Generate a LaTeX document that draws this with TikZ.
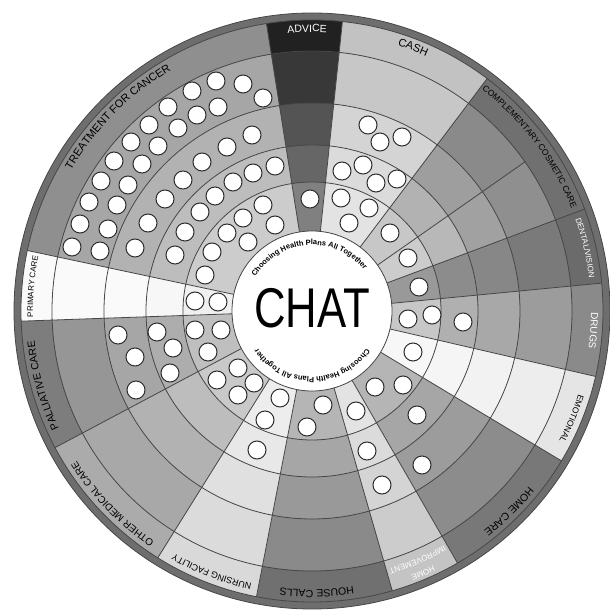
\documentclass[tikz,border=0pt]{standalone}
\usepackage{fontspec}
\setmainfont{Liberation Sans}
\usetikzlibrary{decorations.text}

\begin{document}
\begin{tikzpicture}[
  x=1pt, y=1pt,
  edge/.style={draw=white!28!black, line width=0.8pt},
  hole/.style={draw=white!18!black, fill=white, line width=1pt},
  band/.style={decorate, decoration={text along path, text align=center}}
]
\useasboundingbox (-312,-299) rectangle (298,311);
\fill[white!43!black] (0,0) circle (298);

\foreach \phia/\phib/\gla/\glb/\glc/\gld/\gle in {
    99/168/56/65/70/74/80,    84/99/13/22/33/40/50,
    53/84/76/78/83/86/89,     35/53/44/54/62/70/78,
    20.5/35/44/56/63/72/80,   5.5/20.5/42/48/53/55/60,
    -13/5.5/54/61/66/69/78,   -31/-13/90/93/95/96/97,
    -60/-31/47/55/61/65/71,   -74/-60/77/80/83/86/89,
    -101/-74/44/54/60/65/71,  -122/-101/85/86/88/91/93,
    -152/-122/67/66/70/74/79, -178/-152/49/59/65/68/75,
    168/182/98/98/98/97/94}
  \foreach \ri/\ro/\gv in {80/129/\gle, 129/166/\gld, 166/208/\glc, 208/260/\glb, 260/291/\gla}
    \fill[white!\gv!black] (\phia:\ri) arc[start angle=\phia, end angle=\phib, radius=\ri]
      -- (\phib:\ro) arc[start angle=\phib, end angle=\phia, radius=\ro] -- cycle;

\foreach \bnd in {99,168,84,53,20.5,5.5,-13,-31,-60,-74,-101,-122,-152,-178}
  \draw[edge] (\bnd:80) -- (\bnd:291);
\draw[edge] (35:80) -- (35:260);
\foreach \r in {129,166,208,260,291}
  \draw[edge] (0,0) circle (\r);
\draw[edge] (0,0) circle (298);
\draw[edge, fill=white] (0,0) circle (80);

\foreach \x/\y in {
    -240/64,-232/87,-223/109,-211/130,-198/150,-181/169,-163/186,-144/204,-120/220,-96/230,-69/227,-49/213,
    -212/60,-204/82,-195/106,-184/126,-170/147,-154/165,-134/183,-115/196,-94/204,
    -177/63,-164/88,-147/112,-129/131,-110/149,-85/164,-60/176,
    -137/56,-127/79,-112/99,-97/115,-79/129,-59/138,-37/145,
    -107/36,-100/59,-85/78,-69/93,-49/106,-64/69,-37/86,
    -2/112,
    56/186,68/169,90/174,30/140,51/146,64/128,85/132,29/113,57/103,37/88,
    78/78,96/53,107/24,
    96/-8,120/-4,151/-11,
    101/-41,
    63/-76,91/-74,105/-104,110/-154,
    44/-100,55/-140,70/-174,
    11/-94,-5/-116,
    -32/-87,-47/-109,-55/-139,
    -95/-69,-74/-57,-58/-72,-74/-84,
    -194/-24,-155/-21,-117/-19,-91/-19,-177/-46,-139/-37,-104/-41,-176/-79,-142/-62,
    -117/10,-94/9}
  \draw[hole] (\x,\y) circle (9);

\node (chat) at (0,3) {\fontsize{56}{56}\selectfont\scalebox{0.78}[1]{CHAT}};

\path[band, decoration={text={|\bfseries\fontsize{7.5}{9}\selectfont|Choosing Health Plans All Together}}]
  (173.5:66) arc[start angle=173.5, end angle=13.5, radius=66];
\path[band, decoration={text={|\bfseries\fontsize{7.5}{9}\selectfont|Choosing Health Plans All Together}}]
  (-10:66) arc[start angle=-10, end angle=-170, radius=66];

\path[band, decoration={text={|\fontsize{11}{13}\selectfont|TREATMENT FOR CANCER}}]
  (175:279) arc[start angle=175, end angle=95, radius=279];
\path[band, decoration={text={|\color{white}\fontsize{10.5}{12}\selectfont|ADVICE}}]
  (131:279) arc[start angle=131, end angle=51, radius=279];
\path[band, decoration={text={|\fontsize{11}{13}\selectfont|CASH}}]
  (109:279) arc[start angle=109, end angle=29, radius=279];
\path[band, decoration={text={|\fontsize{8.5}{10}\selectfont|COMPLEMENTARY COSMETIC CARE}}]
  (77:279) arc[start angle=77, end angle=-3, radius=279];
\path[band, decoration={text={|\color{white}\fontsize{8}{10}\selectfont|DENTAL/VISION}}]
  (53:279) arc[start angle=53, end angle=-27, radius=279];
\path[band, decoration={text={|\color{white}\fontsize{10}{12}\selectfont|DRUGS}}]
  (36:279) arc[start angle=36, end angle=-44, radius=279];
\path[band, decoration={text={|\fontsize{8.5}{10}\selectfont|EMOTIONAL}}]
  (17.5:279) arc[start angle=17.5, end angle=-62.5, radius=279];
\path[band, decoration={text={|\fontsize{10.5}{12}\selectfont|HOME CARE}}]
  (-5.5:279) arc[start angle=-5.5, end angle=-85.5, radius=279];
\path[band, decoration={text={|\color{white}\fontsize{8}{10}\selectfont|HOME}}]
  (-27:282) arc[start angle=-27, end angle=-107, radius=282];
\path[band, decoration={text={|\color{white}\fontsize{8}{10}\selectfont|IMPROVEMENT}}]
  (-27:269) arc[start angle=-27, end angle=-107, radius=269];
\path[band, decoration={text={|\fontsize{10.5}{12}\selectfont|HOUSE CALLS}}]
  (-49:279) arc[start angle=-49, end angle=-129, radius=279];
\path[band, decoration={text={|\fontsize{9}{11}\selectfont|NURSING FACILITY}}]
  (-71:279) arc[start angle=-71, end angle=-151, radius=279];
\path[band, decoration={text={|\fontsize{10}{12}\selectfont|OTHER MEDICAL CARE}}]
  (-96:279) arc[start angle=-96, end angle=-176, radius=279];
\path[band, decoration={text={|\fontsize{10.5}{12}\selectfont|PALLIATIVE CARE}}]
  (-124.5:279) arc[start angle=-124.5, end angle=-204.5, radius=279];
\path[band, decoration={text={|\fontsize{8}{10}\selectfont|PRIMARY CARE}}]
  (215:279) arc[start angle=215, end angle=135, radius=279];
\end{tikzpicture}
\end{document}
